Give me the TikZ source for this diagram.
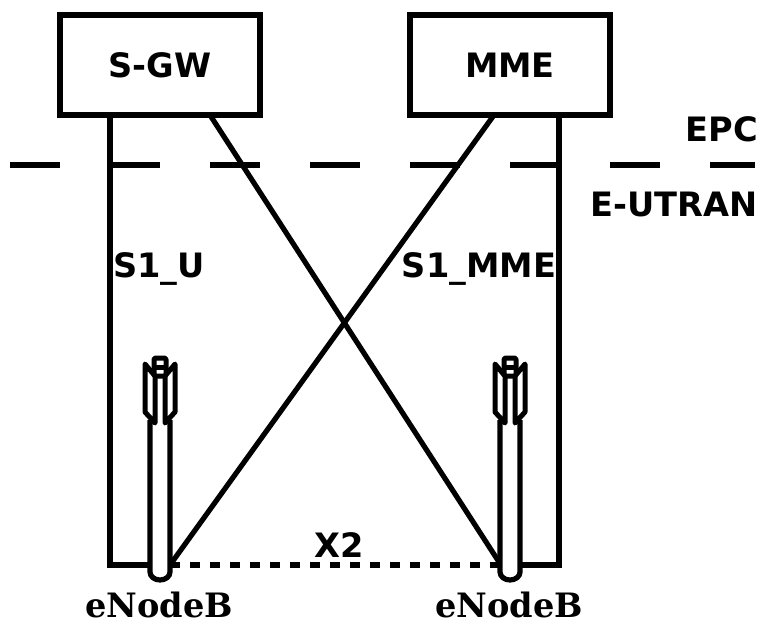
\documentclass[tikz,border=0pt]{standalone}
\usepackage{fontspec}
\setmainfont{DejaVu Sans}
\newfontfamily\serifbold{DejaVu Serif}
\begin{document}
\begin{tikzpicture}[
    x=0.75pt, y=-0.75pt,
    box/.style={
        draw=black,
        line width=3.9pt,
        minimum width=150pt,
        minimum height=75pt,
        font=\fontsize{25.2}{25.2}\selectfont\bfseries
    },
    label/.style={
        inner sep=0pt,
        font=\fontsize{25.2}{25.2}\selectfont\bfseries
    },
    enblabel/.style={
        inner sep=0pt,
        font=\fontsize{25.2}{25.2}\selectfont\serifbold\bfseries
    },
    link/.style={
        line width=3.9pt,
        draw=black
    },
    antenna/.style={
        line width=3.75pt,
        line join=round,
        draw=black
    }
]
    \useasboundingbox (0,0) rectangle (759,619);

    \node[box] (sgw) at (160,65) {S-GW};
    \node[box] (mme) at (510,65) {MME};

    % domain border
    \coordinate (borderl) at (10,165);
    \coordinate (borderr) at (755,165);
    \draw[link, dash pattern=on 37.5pt off 37.5pt] (borderl) -- (borderr);
    \node[label, anchor=east] (epc) at (758,129) {EPC};
    \node[label, anchor=east] (eutran) at (758,204) {E-UTRAN};

    \coordinate (sgwu) at (110,115);
    \coordinate (sgwd) at (210,115);
    \coordinate (mmed) at (494,115);
    \coordinate (mmeu) at (559,115);
    \coordinate (enbaf) at (110,565);
    \coordinate (enbbf) at (559,565);
    \coordinate (enbal) at (160,565);
    \coordinate (enbbl) at (510,565);
    \coordinate (enbax) at (170,565);
    \coordinate (enbbx) at (499,562);
    \coordinate (enbby) at (499,565);

    \draw[link] (sgwu) -- (enbaf) -- (enbal);
    \draw[link] (mmeu) -- (enbbf) -- (enbbl);

    \foreach \n/\x in {a/160,b/510}{
        % mast
        \draw[link, fill=white] (\x-10,420) -- (\x-10,572)
            arc[start angle=180, end angle=0, x radius=10, y radius=8]
            -- (\x+10,420);
        % wings and head
        \draw[antenna] (\x-5,423) -- (\x-5,376) -- (\x-15,364) -- (\x-15,412) -- cycle;
        \draw[antenna] (\x+5,423) -- (\x+5,376) -- (\x+15,364) -- (\x+15,412) -- cycle;
        \draw[antenna, rounded corners=1pt] (\x-6,376) rectangle (\x+6,358);
        \draw[antenna] (\x-6,367) -- (\x+6,367);
        \node[enblabel] (enb\n) at (\x-1,605) {eNodeB};
    }

    \draw[link] (mmed) -- (enbax);
    \draw[link] (sgwd) -- (enbbx);
    \draw[link, dash pattern=on 7.5pt off 7.5pt] (enbax) -- (enbby);

    \node[label] (sone) at (159,268.5) {S1\_U};
    \node[label] (stwo) at (479,268.5) {S1\_MME};
    \node[label] (xtwo) at (339,545) {X2};
\end{tikzpicture}
\end{document}
